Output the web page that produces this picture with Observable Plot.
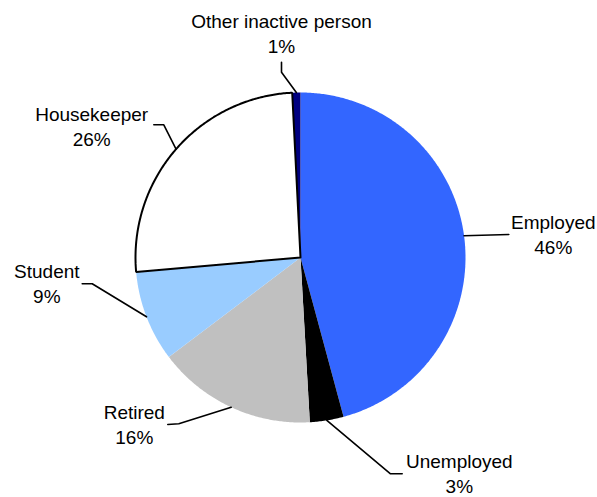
<!DOCTYPE html>
<html>
<head>
<meta charset="utf-8">
<script src="https://cdn.jsdelivr.net/npm/d3@7"></script>
<script src="https://cdn.jsdelivr.net/npm/@observablehq/plot@0.6"></script>
<style>
  html, body { margin: 0; padding: 0; background: #fff; }
  #chart svg { display: block; }
</style>
</head>
<body>
<div id="chart"></div>
<script>
// ---- data ----
const categories = ["Employed", "Unemployed", "Retired", "Student", "Housekeeper", "Other inactive person"];
const shares = [45.8, 3.3, 15.6, 8.9, 25.6, 0.8];
const pctLabels = ["46%", "3%", "16%", "9%", "26%", "1%"];

// ---- styles / layout ----
const colors = ["#3366FF", "#000000", "#C0C0C0", "#99CCFF", "#FFFFFF", "#000080"];
const outlined = [false, false, false, false, true, false];
const W = 597, H = 497;
const CX = 300, CY = 257, R = 165;
const labelAt = [[552.8, 233.1], [458.8, 472.4], [133.8, 423.2], [46.3, 282.2], [91.2, 125.4], [281, 32.2]];
const leaderTail = [
  [[508.3, 234]],
  [[390, 473.3], [401.7, 473.3]],
  [[178.3, 423.3], [167.3, 424]],
  [[91.7, 283.3], [81.7, 283.3]],
  [[163.3, 124.3], [153.3, 124.3]],
  [[281, 71.7], [281, 61.7]]
];

const arcs = d3.pie().sort(null).value(d => d)(shares);
const pt = a => [CX + R * Math.sin(a), CY - R * Math.cos(a)];

const sliceMarks = [];
arcs.forEach((a, i) => {
  const pts = [[CX, CY]];
  const n = Math.max(2, Math.ceil((a.endAngle - a.startAngle) / (Math.PI / 360)));
  for (let k = 0; k <= n; k++) pts.push(pt(a.startAngle + (a.endAngle - a.startAngle) * k / n));
  pts.push([CX, CY]);
  const rows = pts.map(([x, y]) => ({x, y, category: categories[i]}));
  sliceMarks.push(Plot.line(rows, {
    x: "x", y: "y", fill: colors[i],
    stroke: outlined[i] ? "#000" : "none",
    strokeWidth: outlined[i] ? 2 : 0,
    strokeLinejoin: "miter"
  }));
});
const outlineMarks = sliceMarks.filter((m, i) => outlined[i]);
const fillMarks = sliceMarks.filter((m, i) => !outlined[i]);

const leaderRows = [];
arcs.forEach((a, i) => {
  const mid = (a.startAngle + a.endAngle) / 2;
  const line = [pt(mid), ...leaderTail[i]];
  line.forEach(([x, y]) => leaderRows.push({x, y, category: categories[i]}));
});

const labelRows = categories.map((c, i) => ({
  x: labelAt[i][0], y: labelAt[i][1], text: `${c}\n${pctLabels[i]}`
}));

const chart = Plot.plot({
  width: W, height: H,
  margin: 0,
  x: {domain: [0, W], range: [0, W], axis: null},
  y: {domain: [0, H], range: [0, H], axis: null},
  marks: [
    ...fillMarks,
    ...outlineMarks,
    Plot.line(leaderRows, {x: "x", y: "y", z: "category", stroke: "#000", strokeWidth: 1.6}),
    Plot.text(labelRows, {
      x: "x", y: "y", text: "text",
      fontSize: 19, lineHeight: 1.316,
      fontFamily: "Liberation Sans, Arial, sans-serif",
      fill: "#000", textAnchor: "middle"
    })
  ]
});
document.getElementById("chart").appendChild(chart);
</script>
</body>
</html>
